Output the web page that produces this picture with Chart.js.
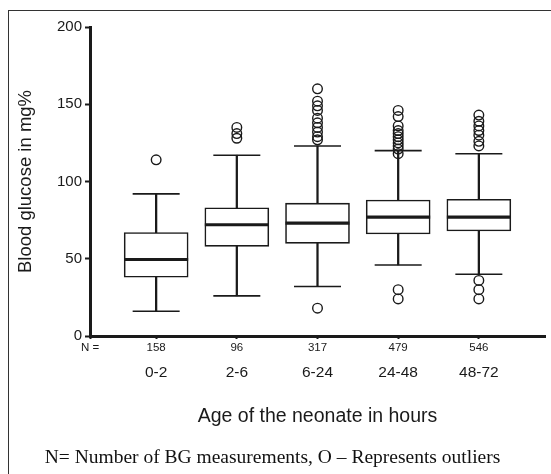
<!DOCTYPE html>
<html>
<head>
<meta charset="utf-8">
<script src="https://cdn.jsdelivr.net/npm/chart.js@4"></script>
<style>
  body { margin: 0; background: #fff; }
  #wrap { position: relative; width: 551px; height: 474px; overflow: hidden; }
  #frame { position: absolute; left: 8px; top: 10px; width: 600px; height: 600px;
           border-left: 1.5px solid #333; border-top: 1.5px solid #333; }
  canvas { position: absolute; left: 0; top: 0; }
</style>
</head>
<body>
<div id="wrap">
  <div id="frame"></div>
  <canvas id="bgChart" width="551" height="474"></canvas>
</div>
<script>
// Blood glucose by age of neonate (box plot)
const groups = ['0-2', '2-6', '6-24', '24-48', '48-72'];
const counts = [158, 96, 317, 479, 546];
const lowerWhisker = [16, 26, 32, 46, 40];
const q1 = [38, 58, 60, 66, 68];
const median = [49.5, 72, 73, 77, 77];
const q3 = [67, 83, 86, 88, 88.5];
const upperWhisker = [92, 117, 123, 120, 118];
const outliers = [
    [114],
    [128, 131, 135],
    [18, 127, 129, 132, 135, 138, 141, 146, 149, 152, 160],
    [24, 30, 118, 121, 123, 125, 127, 129, 131, 133, 136, 142, 146],
    [24, 30, 36, 123, 126, 130, 133, 136, 139, 143]
];
const yTicks = [0, 50, 100, 150, 200];
const xMin = 0.18, xMax = 5.82;

const pos = groups.map((g, i) => i + 1);
const ink = '#1a1a1a';
const sans = 'Liberation Sans, Arial, sans-serif';

// keep the plot area where the layout padding puts it
function noPad(s) {
    s.paddingLeft = 0; s.paddingRight = 0; s.paddingTop = 0; s.paddingBottom = 0;
}

const ctx = document.getElementById('bgChart').getContext('2d');
new Chart(ctx, {
    type: 'bar',
    data: {
        datasets: [
            {
                type: 'scatter',
                order: 0,
                data: outliers.flatMap((vals, i) => vals.map(v => ({ x: pos[i], y: v }))),
                pointStyle: 'circle',
                pointRadius: 4.8,
                borderColor: ink,
                borderWidth: 1.4,
                backgroundColor: 'rgba(0,0,0,0)'
            },
            {
                type: 'scatter',
                order: 1,
                data: median.map((v, i) => ({ x: pos[i], y: v })),
                pointStyle: 'line',
                pointRadius: 32,
                borderColor: ink,
                borderWidth: 3.2
            },
            {
                type: 'scatter',
                order: 2,
                data: lowerWhisker.map((v, i) => ({ x: pos[i], y: v }))
                    .concat(upperWhisker.map((v, i) => ({ x: pos[i], y: v }))),
                pointStyle: 'line',
                pointRadius: 23.5,
                borderColor: ink,
                borderWidth: 1.6
            },
            {
                order: 3,
                data: q1.map((v, i) => ({ x: pos[i], y: [v, q3[i]] })),
                backgroundColor: '#fff',
                borderColor: ink,
                borderWidth: 1.6,
                borderSkipped: false,
                barThickness: 64,
                grouped: false
            },
            {
                order: 4,
                data: lowerWhisker.map((v, i) => ({ x: pos[i], y: [v, upperWhisker[i]] })),
                backgroundColor: ink,
                borderWidth: 0,
                barThickness: 1.6,
                grouped: false
            }
        ]
    },
    options: {
        responsive: false,
        animation: false,
        layout: { autoPadding: false, padding: { left: 0, right: 6, top: 27, bottom: 3 } },
        plugins: {
            legend: { display: false },
            tooltip: { enabled: false },
            title: {
                display: true,
                position: 'bottom',
                text: 'N= Number of BG measurements, O \u2013 Represents outliers',
                color: '#111',
                font: { family: 'Liberation Serif, Times New Roman, serif', size: 19.5, weight: 'normal' },
                padding: { top: 8, bottom: 1 }
            }
        },
        scales: {
            x: {
                type: 'linear',
                weight: 1,
                min: xMin,
                max: xMax,
                offset: false,
                afterBuildTicks: s => { s.ticks = [xMin].concat(pos).map(v => ({ value: v })); },
                afterFit: s => { s.height = 18; noPad(s); },
                ticks: {
                    color: ink,
                    font: { family: sans, size: 11.5 },
                    padding: 2,
                    maxRotation: 0,
                    autoSkip: false,
                    callback: v => v < 1 ? 'N =' : String(counts[v - 1])
                },
                grid: { offset: false, drawOnChartArea: false, tickLength: 3, tickWidth: 2, color: ink },
                border: { color: ink, width: 3 }
            },
            x2: {
                type: 'linear',
                position: 'bottom',
                weight: 2,
                min: xMin,
                max: xMax,
                offset: false,
                afterBuildTicks: s => { s.ticks = pos.map(v => ({ value: v })); },
                afterFit: s => { s.height = 84.6; noPad(s); },
                ticks: {
                    color: ink,
                    font: { family: sans, size: 15.5 },
                    padding: 9,
                    maxRotation: 0,
                    autoSkip: false,
                    callback: v => groups[v - 1]
                },
                grid: { display: false, drawTicks: false },
                border: { display: false },
                title: {
                    display: true,
                    text: 'Age of the neonate in hours',
                    color: ink,
                    font: { family: sans, size: 19.5 },
                    padding: { top: 20, bottom: 10 }
                }
            },
            y: {
                min: 0,
                max: 200,
                afterBuildTicks: s => { s.ticks = yTicks.map(v => ({ value: v })); },
                afterFit: s => { s.width = 90; noPad(s); },
                ticks: {
                    color: ink,
                    font: { family: sans, size: 15 },
                    padding: 3
                },
                grid: { drawOnChartArea: false, tickLength: 5, tickWidth: 2, color: ink },
                border: { color: ink, width: 3 },
                title: {
                    display: true,
                    text: 'Blood glucose in mg%',
                    color: ink,
                    font: { family: sans, size: 18.5 },
                    padding: { top: 15, bottom: 0 }
                }
            }
        }
    }
});
</script>
</body>
</html>
